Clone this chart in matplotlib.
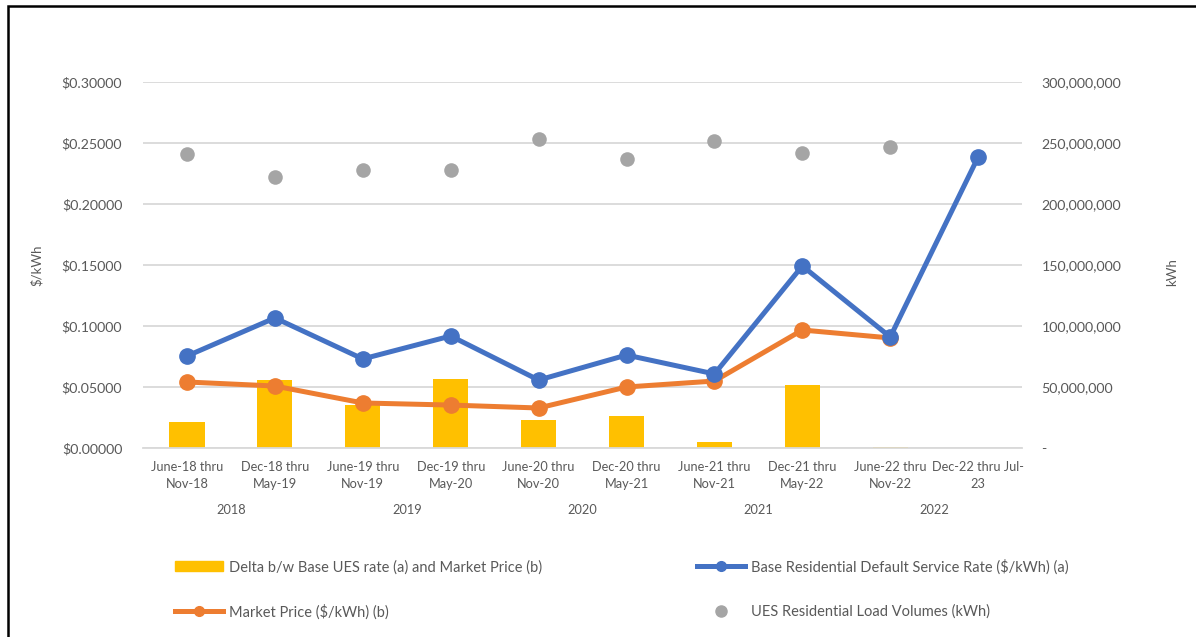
import matplotlib
matplotlib.use("Agg")
import matplotlib.pyplot as plt
from matplotlib.lines import Line2D
from matplotlib.patches import Patch, Rectangle
from matplotlib.ticker import FuncFormatter

plt.rcParams['font.family'] = ['Lato', 'DejaVu Sans']
plt.rcParams['text.parse_math'] = False

# data
perioden = ['June-18 thru\nNov-18', 'Dec-18 thru\nMay-19', 'June-19 thru\nNov-19', 'Dec-19 thru\nMay-20',
            'June-20 thru\nNov-20', 'Dec-20 thru\nMay-21', 'June-21 thru\nNov-21', 'Dec-21 thru\nMay-22',
            'June-22 thru\nNov-22', 'Dec-22 thru Jul-\n23']
jahre = ['2018', '2019', '2020', '2021', '2022']
delta = [0.0210, 0.0557, 0.0355, 0.0566, 0.0230, 0.0262, 0.0050, 0.0516, 0.0010, 0.0]
basis_rate = [0.0754, 0.1066, 0.0730, 0.0918, 0.0557, 0.0762, 0.0607, 0.1492, 0.0910, 0.2385]
marktpreis = [0.0541, 0.0508, 0.0369, 0.0352, 0.0328, 0.0500, 0.0549, 0.0967, 0.0902]
lastvolumen = [241e6, 222e6, 228e6, 228e6, 253e6, 237e6, 252e6, 242e6, 247e6]

BLAU = '#4472C4'
ORANGE = '#ED7D31'
GOLD = '#FFC000'
GRAU = '#A5A5A5'
TXT = '#595959'

fig = plt.figure(figsize=(11.96, 6.37), dpi=100)
ax = fig.add_axes([0.1196, 0.2967, 0.735, 0.5746])
ax2 = ax.twinx()

x = list(range(len(perioden)))
ax.bar(x, delta, width=0.4, color=GOLD, zorder=2)
ax.plot(x, basis_rate, color=BLAU, lw=3.6, marker='o', ms=11, zorder=4, solid_capstyle='round')
ax.plot(x[:len(marktpreis)], marktpreis, color=ORANGE, lw=3.6, marker='o', ms=11, zorder=3,
        solid_capstyle='round')
ax2.scatter(x[:len(lastvolumen)], lastvolumen, s=110, color=GRAU, zorder=3, linewidths=0)

ax.set_xlim(-0.5, len(perioden) - 0.5)
ax.set_ylim(0, 0.30)
ax.set_yticks([0, 0.05, 0.10, 0.15, 0.20, 0.25, 0.30])
ax.yaxis.set_major_formatter(FuncFormatter(lambda v, p: f"${v:.5f}"))
ax2.set_ylim(0, 300e6)
ax2.set_yticks([0, 50e6, 100e6, 150e6, 200e6, 250e6, 300e6])
ax2.yaxis.set_major_formatter(FuncFormatter(lambda v, p: '-' if v == 0 else f"{v:,.0f}"))

ax.grid(axis='y', color='#D9D9D9', lw=1.3, zorder=0)
ax.set_axisbelow(True)
for a in (ax, ax2):
    for s in a.spines.values():
        s.set_visible(False)
    a.tick_params(length=0, colors=TXT, labelsize=10.2)
ax.spines['bottom'].set_visible(True)
ax.spines['bottom'].set_color('#D9D9D9')
ax.spines['bottom'].set_linewidth(1.3)
ax.tick_params(axis='y', pad=15)
ax2.tick_params(axis='y', pad=14)

ax.set_xticks(x)
ax.set_xticklabels(perioden, fontsize=9.2, color=TXT, linespacing=1.5)
ax.tick_params(axis='x', pad=9)
for i, j in enumerate(jahre):
    ax.text(2 * i + 0.5, -0.17, j, transform=ax.get_xaxis_transform(), ha='center', va='center',
            fontsize=9.2, color=TXT)

fig.text(37 / 1196, 1 - 265 / 637, '$/kWh', rotation=90, ha='center', va='center', fontsize=9.5, color=TXT)
fig.text(1172 / 1196, 1 - 272 / 637, 'kWh', rotation=90, ha='center', va='center', fontsize=9.5, color=TXT)

griffe = [
    Patch(color=GOLD, label='Delta b/w Base UES rate (a) and Market Price (b)'),
    Line2D([], [], color=ORANGE, lw=3.6, marker='o', ms=7, label='Market Price ($/kWh) (b)'),
    Line2D([], [], color=BLAU, lw=3.6, marker='o', ms=7, label='Base Residential Default Service Rate ($/kWh) (a)'),
    Line2D([], [], color=GRAU, lw=0, marker='o', ms=8, label='UES Residential Load Volumes (kWh)'),
]
leg = fig.legend(handles=griffe, ncol=2, loc='upper left', bbox_to_anchor=(162 / 1196, 1 - 546 / 637),
                 frameon=False, fontsize=10.5, handlelength=3.3, handleheight=0.7, labelspacing=2.05,
                 columnspacing=10.6, handletextpad=0.4)
for t in leg.get_texts():
    t.set_color(TXT)

# Rahmen
fig.patches.append(Rectangle((8 / 1196, -0.05), 1.1, 1.05 - 6 / 637, transform=fig.transFigure,
                             fill=False, edgecolor='black', lw=1.8, zorder=10))

fig.savefig('out.png', dpi=100)
